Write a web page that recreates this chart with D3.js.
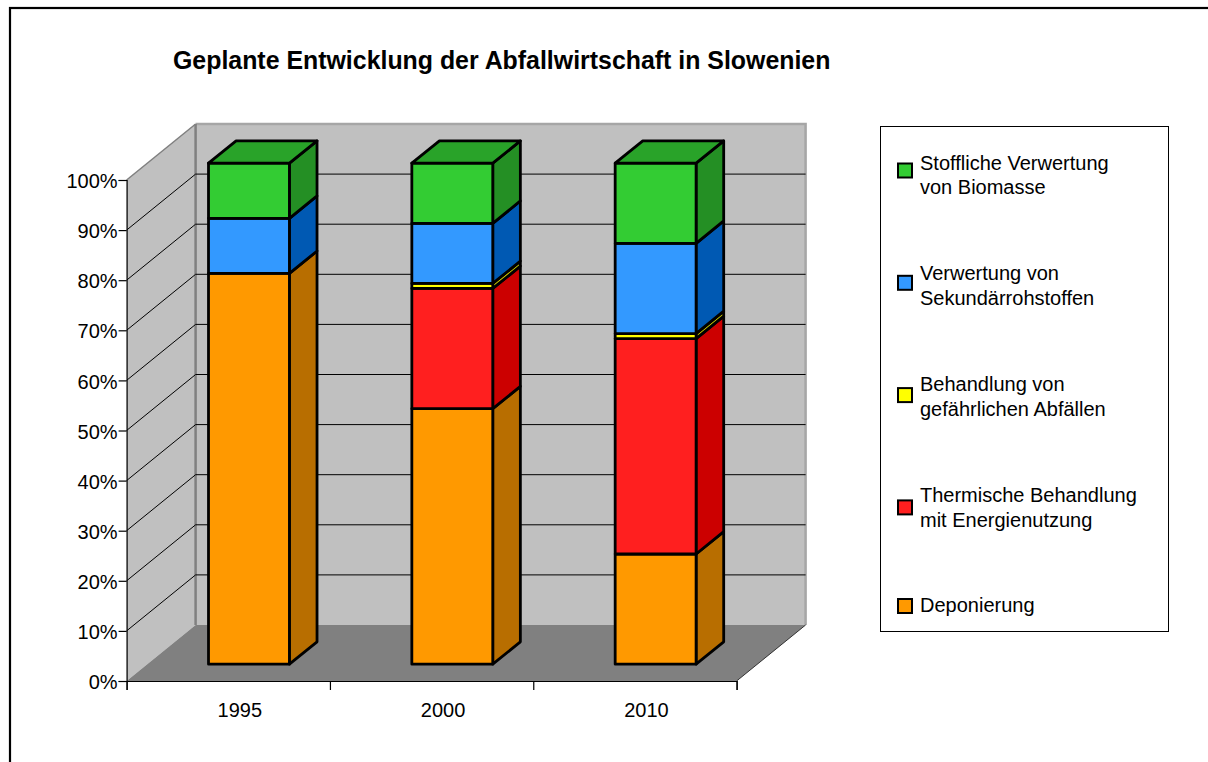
<!DOCTYPE html>
<html>
<head>
<meta charset="utf-8">
<script src="https://cdn.jsdelivr.net/npm/d3@7"></script>
<style>
  html, body { margin: 0; padding: 0; background: #fff; }
  svg { display: block; }
  text { font-family: "Liberation Sans", Arial, sans-serif; fill: #000; }
</style>
</head>
<body>
<svg id="chart" width="1208" height="762"></svg>
<script>
const chartTitle = "Geplante Entwicklung der Abfallwirtschaft in Slowenien";
const years = ["1995", "2000", "2010"];
const seriesKeys = ["deponierung", "thermisch", "gefaehrlich", "sekundaer", "biomasse"];
const deponierung = [78, 51, 22];
const thermisch = [0, 24, 43];
const gefaehrlich = [0, 1, 1];
const sekundaer = [11, 12, 18];
const biomasse = [11, 12, 16];
const percentTicks = [0, 10, 20, 30, 40, 50, 60, 70, 80, 90, 100];

// front, side and top colours per series
const frontColors = ["#ff9900", "#ff1f1f", "#ffff00", "#3399ff", "#33cc33"];
const sideColors = ["#b86e00", "#cc0000", "#cccc00", "#0059b3", "#248f24"];
const topColor = "#29a329";

// legend is listed from top to bottom, series index alongside
const legendLabels = [
  [4, ["Stoffliche Verwertung", "von Biomasse"]],
  [3, ["Verwertung von", "Sekundärrohstoffen"]],
  [2, ["Behandlung von", "gefährlichen Abfällen"]],
  [1, ["Thermische Behandlung", "mit Energienutzung"]],
  [0, ["Deponierung"]]
];

const svg = d3.select("#chart");

// page frame, runs off the right and bottom
svg.append("rect")
  .attr("x", 10).attr("y", 8)
  .attr("width", 1300).attr("height", 900)
  .attr("fill", "#fff").attr("stroke", "#000").attr("stroke-width", 2.2);

svg.append("text")
  .attr("x", 173).attr("y", 69)
  .style("font-size", "24.9px").style("font-weight", "bold")
  .text(chartTitle);

// scales on the front plane of the box
const left = 126.6, right = 736.6, floorY = 681, topY = 180;
const depthX = 69, depthY = -56;
const xBand = d3.scaleBand().domain(years).range([left, right]).paddingInner(0).paddingOuter(0);
const xEdge = d3.scaleLinear().domain([0, years.length]).range([left, right]);
const yPct = d3.scaleLinear().domain([0, 100]).range([floorY, topY]);

// depth d goes from 0 (front) to 1 (back wall)
const project = (x, y, d) => [x + depthX * d, y + depthY * d];
const poly = pts => "M" + pts.map(p => p.join(",")).join("L") + "Z";

const walls = svg.append("g");
const [bx0, by0] = project(left, floorY, 1);
const [bx1, by1] = project(right, topY, 1);

// left wall
walls.append("path")
  .attr("d", poly([[left, floorY], [left, topY], [bx0, by1], [bx0, by0]]))
  .attr("fill", "#c0c0c0");
// back wall
walls.append("rect")
  .attr("x", bx0).attr("y", by1)
  .attr("width", bx1 - bx0).attr("height", by0 - by1)
  .attr("fill", "#c0c0c0");
// wall rims
walls.append("path")
  .attr("d", `M${bx0},${by1}L${bx1},${by1}L${bx1},${by0}`)
  .attr("fill", "none").attr("stroke", "#a6a6a6").attr("stroke-width", 2.5);
walls.append("path")
  .attr("d", `M${left},${topY}L${bx0},${by1}`)
  .attr("fill", "none").attr("stroke", "#808080").attr("stroke-width", 1.5);
walls.append("line")
  .attr("x1", bx0).attr("x2", bx0).attr("y1", by1).attr("y2", by0)
  .attr("stroke", "#808080").attr("stroke-width", 2.5);
// floor
walls.append("path")
  .attr("d", poly([[left, floorY], [right, floorY], [bx1, by0], [bx0, by0]]))
  .attr("fill", "#808080");
walls.append("line")
  .attr("x1", right).attr("y1", floorY).attr("x2", bx1).attr("y2", by0)
  .attr("stroke", "#333").attr("stroke-width", 1);

// gridlines: along the left wall, then the back wall
const grid = svg.append("g").attr("stroke", "#000").attr("stroke-width", 1);
percentTicks.filter(t => t > 0 && t < 100).forEach(t => {
  const [gx, gy] = project(left, yPct(t), 1);
  grid.append("path")
    .attr("fill", "none")
    .attr("d", `M${left},${yPct(t)}L${gx},${gy}L${bx1},${gy}`);
});

// bars
const table = years.map((year, i) => ({
  year,
  deponierung: deponierung[i],
  thermisch: thermisch[i],
  gefaehrlich: gefaehrlich[i],
  sekundaer: sekundaer[i],
  biomasse: biomasse[i]
}));
const stacked = d3.stack().keys(seriesKeys)(table);

const barWidth = xBand.bandwidth() * 0.398;
const depthFront = 0.3, depthBack = 0.7;
const bars = svg.append("g").attr("stroke", "#000").attr("stroke-width", 2.8).attr("stroke-linejoin", "round");

years.forEach((year, i) => {
  const x0 = xBand(year) + (xBand.bandwidth() - barWidth) / 2;
  const x1 = x0 + barWidth;
  stacked.forEach((layer, s) => {
    const v0 = layer[i][0], v1 = layer[i][1];
    if (v1 <= v0) return;
    const y0 = yPct(v0), y1 = yPct(v1);
    bars.append("path")
      .attr("fill", sideColors[s])
      .attr("d", poly([project(x1, y0, depthFront), project(x1, y0, depthBack), project(x1, y1, depthBack), project(x1, y1, depthFront)]));
    bars.append("path")
      .attr("fill", frontColors[s])
      .attr("d", poly([project(x0, y0, depthFront), project(x1, y0, depthFront), project(x1, y1, depthFront), project(x0, y1, depthFront)]));
    if (v1 === 100) {
      bars.append("path")
        .attr("fill", topColor)
        .attr("d", poly([project(x0, y1, depthFront), project(x1, y1, depthFront), project(x1, y1, depthBack), project(x0, y1, depthBack)]));
    }
  });
});

// axes
const yAxis = d3.axisLeft(yPct)
  .tickValues(percentTicks)
  .tickSize(8).tickPadding(1)
  .tickFormat(d => d + "%");
const gy = svg.append("g").attr("transform", `translate(${left},0)`).call(yAxis);
gy.selectAll("text").style("font-size", "20px").attr("font-family", null).attr("dy", "0.38em");
gy.selectAll("line, path").attr("stroke", "#000").attr("stroke-width", 1.2);

const xTicks = d3.axisBottom(xEdge)
  .tickValues(d3.range(years.length + 1))
  .tickSize(9).tickFormat("");
const gx = svg.append("g").attr("transform", `translate(0,${floorY})`).call(xTicks);
gx.selectAll("line, path").attr("stroke", "#000").attr("stroke-width", 1.2);

const xLabels = d3.axisBottom(xBand).tickSize(0).tickPadding(22);
const gl = svg.append("g").attr("transform", `translate(11.5,${floorY})`).call(xLabels);
gl.select(".domain").remove();
gl.selectAll("text").style("font-size", "20px").attr("font-family", null);

// legend
const legend = svg.append("g");
legend.append("rect")
  .attr("x", 880.5).attr("y", 126.5)
  .attr("width", 288).attr("height", 505)
  .attr("fill", "#fff").attr("stroke", "#000").attr("stroke-width", 1);

// two-line entries are taller, so step down by entry height
let legendCursor = 170.5;
legendLabels.forEach(([s, lines], i) => {
  const cy = legendCursor;
  legend.append("rect")
    .attr("x", 898).attr("y", cy - 7)
    .attr("width", 14).attr("height", 14)
    .attr("fill", frontColors[s]).attr("stroke", "#000").attr("stroke-width", 2);
  lines.forEach((line, j) => {
    legend.append("text")
      .attr("x", 920)
      .attr("y", lines.length > 1 ? cy - 1 - i * 1.4 + j * 24.5 : cy + 6)
      .style("font-size", "20px")
      .text(line);
  });
  legendCursor += i < 3 ? 112.3 : 98.6;
});
</script>
</body>
</html>
